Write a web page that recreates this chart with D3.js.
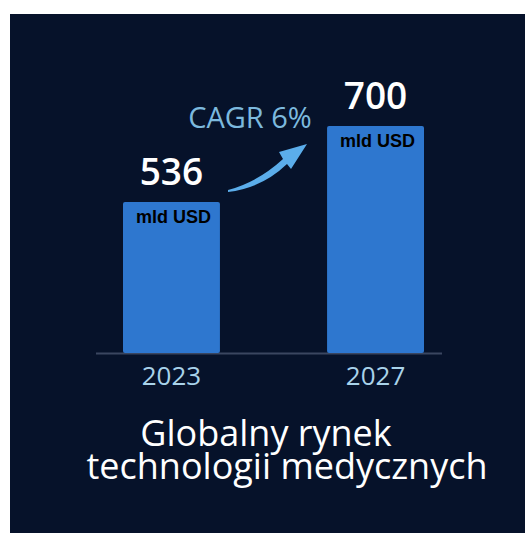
<!DOCTYPE html>
<html>
<head>
<meta charset="utf-8">
<script src="https://cdn.jsdelivr.net/npm/d3@7"></script>
<style>
  body { margin: 0; background: #ffffff; }
</style>
</head>
<body>
<div id="chart"></div>
<script>
// chart data
var years = ["2023", "2027"];
var values = [536, 700];
var unitLabel = "mld USD";
var cagrLabel = "CAGR 6%";
var titleLines = ["Globalny rynek", "technologii medycznych"];

var w = 526, h = 533;
var baseY = 353;

var svg = d3.select("#chart")
            .append("svg")
            .attr("width", w)
            .attr("height", h);

// dark panel
svg.append("rect")
   .attr("x", 10).attr("y", 14)
   .attr("width", 515).attr("height", 519)
   .attr("fill", "#06122a");

var xScale = d3.scaleBand()
               .domain(years)
               .range([123, 424])
               .paddingInner(0.525)
               .paddingOuter(0);

// bars don't start at zero in the original graphic
var yScale = d3.scaleLinear()
               .domain([210, 700])
               .range([baseY, 126]);

var data = years.map(function(y, i){ return {year: y, value: values[i]}; });

// baseline
svg.append("line")
   .attr("x1", 96).attr("x2", 442)
   .attr("y1", baseY + 0.5).attr("y2", baseY + 0.5)
   .attr("stroke", "#3a4660")
   .attr("stroke-width", 2);

svg.selectAll("rect.bar")
   .data(data)
   .enter()
   .append("rect")
   .attr("class", "bar")
   .attr("x", function(d){ return xScale(d.year); })
   .attr("y", function(d){ return yScale(d.value); })
   .attr("width", xScale.bandwidth())
   .attr("height", function(d){ return baseY - yScale(d.value); })
   .attr("rx", 2)
   .attr("fill", "#2e77cf");

// value labels
svg.selectAll("text.value")
   .data(data)
   .enter()
   .append("text")
   .attr("class", "value")
   .attr("x", function(d){ return xScale(d.year) + xScale.bandwidth() / 2; })
   .attr("y", function(d){ return yScale(d.value) - 17; })
   .attr("text-anchor", "middle")
   .style("font-family", "'Open Sans', sans-serif")
   .style("font-weight", 600)
   .style("font-size", "37px")
   .attr("fill", "#ffffff")
   .text(function(d){ return d.value; });

// unit inside bars
svg.selectAll("text.unit")
   .data(data)
   .enter()
   .append("text")
   .attr("class", "unit")
   .attr("x", function(d){ return xScale(d.year) + xScale.bandwidth() / 2 + 2; })
   .attr("y", function(d){ return yScale(d.value) + 21; })
   .attr("text-anchor", "middle")
   .style("font-family", "'Liberation Sans', Arial, sans-serif")
   .style("font-weight", "bold")
   .style("font-size", "18px")
   .attr("fill", "#000000")
   .text(unitLabel);

// x axis labels
var xAxis = d3.axisBottom(xScale).tickSize(0).tickPadding(14);
var gx = svg.append("g")
   .attr("transform", "translate(0," + baseY + ")")
   .call(xAxis);
gx.select(".domain").remove();
gx.selectAll("text")
  .style("font-family", "'Open Sans', sans-serif")
  .style("font-size", "26px")
  .attr("fill", "#a9d3ea");

// CAGR label and arrow
svg.append("text")
   .attr("x", 250).attr("y", 128)
   .attr("text-anchor", "middle")
   .style("font-family", "'Open Sans', sans-serif")
   .style("font-size", "29px")
   .attr("fill", "#7cb9de")
   .text(cagrLabel);

svg.append("path")
   .attr("d", "M228,190 Q258,182 283,159 L279,152 L307,144 L291,169 L287,164 Q262,188 228,192 Z")
   .attr("fill", "#5badea");

// title, one text per line
svg.selectAll("text.title")
   .data(titleLines)
   .enter()
   .append("text")
   .attr("class", "title")
   .attr("x", function(d, i){ return i == 0 ? 266 : 287; })
   .attr("y", function(d, i){ return 446 + i * 33; })
   .attr("text-anchor", "middle")
   .style("font-family", "'Open Sans', sans-serif")
   .style("font-size", "36px")
   .attr("fill", "#ffffff")
   .text(function(d){ return d; });
</script>
</body>
</html>
